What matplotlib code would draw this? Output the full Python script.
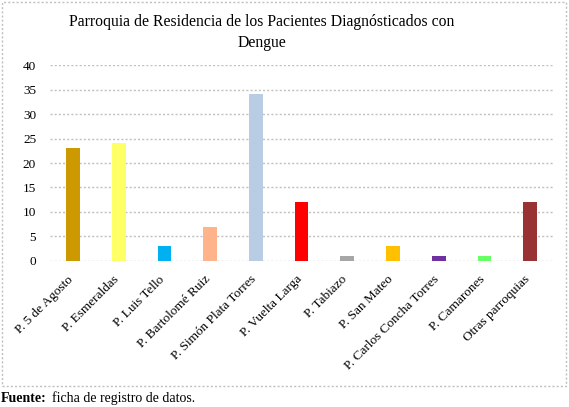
import matplotlib.pyplot as plt
import matplotlib.transforms as mtransforms
from matplotlib.patches import Rectangle

plt.rcParams['font.family'] = ['Liberation Serif', 'DejaVu Serif']

parroquias = ["P. 5 de Agosto", "P. Esmeraldas", "P. Luis Tello", "P. Bartolomé Ruiz",
              "P. Simón Plata Torres", "P. Vuelta Larga", "P. Tabiazo", "P. San Mateo",
              "P. Carlos Concha Torres", "P. Camarones", "Otras parroquias"]
pacientes = [23, 24, 3, 7, 34, 12, 1, 3, 1, 1, 12]
colores = ["#CC9900", "#FFFF66", "#00B0F0", "#FFB38A", "#B8CCE4", "#FF0000",
           "#A6A6A6", "#FFC000", "#7030A0", "#66FF66", "#993333"]
yticks = [0, 5, 10, 15, 20, 25, 30, 35, 40]

fig = plt.figure(figsize=(5.69, 4.07), dpi=100)
ax = fig.add_axes([0.088, 0.359, 0.884, 0.481])

ax.bar(range(len(parroquias)), pacientes, width=0.3, color=colores, zorder=3)

ax.set_ylim(0, 40)
ax.set_xlim(-0.5, len(parroquias) - 0.5)
ax.set_yticks(yticks)
ax.set_yticklabels([str(v) for v in yticks], fontsize=9.5)
ax.set_xticks(range(len(parroquias)))
ax.set_xticklabels(parroquias, rotation=45, ha='right', rotation_mode='anchor', fontsize=9.5)
ax.tick_params(length=0, pad=10)
ax.tick_params(axis='x', pad=9)
# correr un poco las etiquetas a la izquierda como en el original
desplaz = mtransforms.ScaledTranslation(-6 / 100, 0, fig.dpi_scale_trans)
for lbl in ax.get_xticklabels():
    lbl.set_transform(lbl.get_transform() + desplaz)
ax.grid(axis='y', color='#C0C0C0', linestyle=(0, (1.5, 1.5)), linewidth=1, zorder=0)
for s in ax.spines.values():
    s.set_visible(False)

fig.text(0.46, 0.92, "Parroquia de Residencia de los Pacientes Diagnósticados con\nDengue",
         ha='center', va='center', fontsize=11.3, linespacing=1.4)

# marco del grafico
fig.patches.append(Rectangle((0.004, 0.052), 0.99, 0.944, transform=fig.transFigure,
                             fill=False, edgecolor='#BFBFBF', linestyle=(0, (1.5, 1.5)), linewidth=1))

fig.text(0.002, 0.022, "Fuente:", fontsize=10, fontweight='bold', va='center')
fig.text(0.092, 0.022, "ficha de registro de datos.", fontsize=10, va='center')

fig.savefig("out.png", dpi=100)
